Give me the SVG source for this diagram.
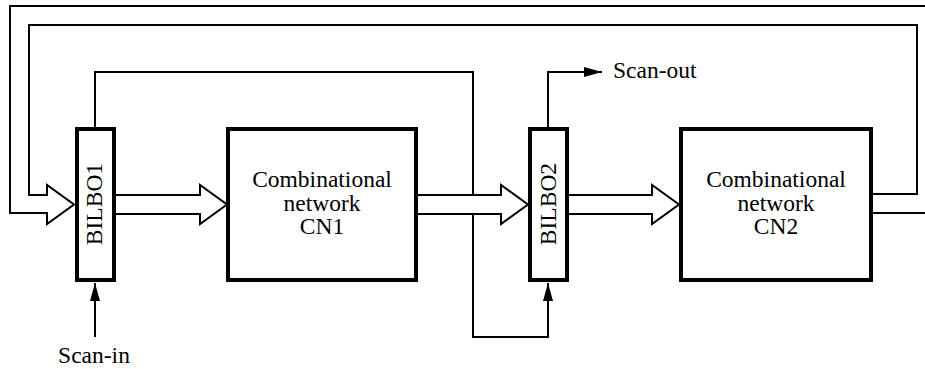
<svg xmlns="http://www.w3.org/2000/svg" width="925" height="369" viewBox="0 0 925 369">
<style>
.box{fill:#fff;stroke:#000;stroke-width:4}
.ln{fill:none;stroke:#000;stroke-width:2}
.bus{fill:#fff;stroke:#000;stroke-width:2;stroke-linejoin:miter}
.t{font-family:'Liberation Serif',serif;font-size:23.5px;fill:#000}
</style>
<defs>
<marker id="ah" markerUnits="userSpaceOnUse" markerWidth="18" markerHeight="10" refX="18" refY="5" orient="auto">
<path d="M0,0 L18,5 L0,10 Z" fill="#000"/>
</marker>
</defs>
<rect width="925" height="369" fill="#fff"/>
<g id="connectors">
<path class="ln" d="M872,213 H927 V6 H10 V213 H47 V224 L74,204.5 L47,185 V195 H29 V25 H917 V194 H872"/>
<path class="ln" d="M95,127 V72 H473 V337 H548 V283" marker-end="url(#ah)"/>
<path class="ln" d="M548,127 V72 H602" marker-end="url(#ah)"/>
<path class="ln" d="M95,337 V283" marker-end="url(#ah)"/>
<path class="bus" d="M116,195 H200 V185 L227,204.5 L200,224 V214 H116"/>
<path class="bus" d="M418,195 H501 V185 L528,204.5 L501,224 V214 H418"/>
<path class="bus" d="M569,195 H652 V185 L679,204.5 L652,224 V214 H569"/>
</g>
<g id="bilbo1">
<rect class="box" x="77" y="129" width="37" height="151"/>
<text class="t" text-anchor="middle" transform="translate(102,204) rotate(-90)">BILBO1</text>
</g>
<g id="cn1">
<rect class="box" x="228" y="129" width="188" height="151"/>
<text class="t" text-anchor="middle" x="322" y="187">Combinational</text>
<text class="t" text-anchor="middle" x="322" y="210.5">network</text>
<text class="t" text-anchor="middle" x="322" y="234">CN1</text>
</g>
<g id="bilbo2">
<rect class="box" x="530" y="129" width="37" height="151"/>
<text class="t" text-anchor="middle" transform="translate(556,204) rotate(-90)">BILBO2</text>
</g>
<g id="cn2">
<rect class="box" x="681" y="129" width="190" height="151"/>
<text class="t" text-anchor="middle" x="776" y="187">Combinational</text>
<text class="t" text-anchor="middle" x="776" y="210.5">network</text>
<text class="t" text-anchor="middle" x="776" y="234">CN2</text>
</g>
<g id="labels">
<text class="t" x="613" y="78">Scan-out</text>
<text class="t" text-anchor="middle" x="94" y="363">Scan-in</text>
</g>
</svg>
